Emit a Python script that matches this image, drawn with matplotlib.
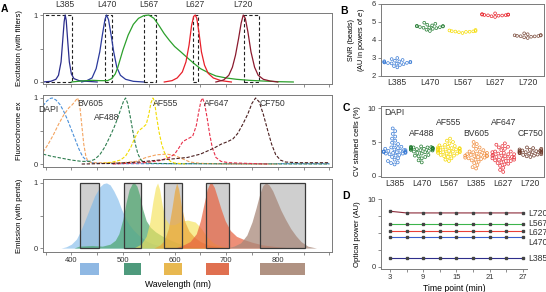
import numpy as np
import pandas as pd
import matplotlib
matplotlib.use("Agg")
import matplotlib.pyplot as plt
import matplotlib.transforms as mtrans
from matplotlib.patches import Rectangle
import seaborn as sns

plt.rcParams['font.family'] = ['Liberation Sans', 'DejaVu Sans']
plt.rcParams['font.size'] = 6

# ---------------- DATA ----------------
# Panel A top: LED excitation spectra (with filters)
led_names = ["L385", "L470", "L567", "L627", "L720"]
led_colors = ["#2b2d8c", "#2b3a9c", "#2ca02c", "#e8202a", "#8b1a2e"]
led385_wl = [345, 360, 370, 375, 380, 383, 386, 388, 390, 393, 396, 400, 405, 415, 430, 450]
led385 = [0.0, 0.01, 0.04, 0.1, 0.3, 0.6, 0.9, 1.0, 0.92, 0.6, 0.3, 0.12, 0.05, 0.02, 0.01, 0.0]
led470_wl = [420, 430, 440, 448, 455, 460, 465, 468, 472, 477, 482, 488, 495, 505, 520, 540]
led470 = [0.0, 0.02, 0.06, 0.2, 0.45, 0.7, 0.93, 1.0, 0.93, 0.7, 0.45, 0.22, 0.1, 0.04, 0.01, 0.0]
led567_wl = [400, 420, 440, 455, 470, 478, 485, 490, 495, 500, 510, 520, 530, 540, 550, 560, 570,
             580, 590, 600, 612, 625, 637, 650, 665, 680, 700, 720, 745, 770, 800, 830]
led567 = [0.0, 0.015, 0.025, 0.02, 0.02, 0.05, 0.12, 0.22, 0.35, 0.48, 0.7, 0.86, 0.95, 0.99, 1.0,
          0.95, 0.84, 0.72, 0.62, 0.53, 0.45, 0.36, 0.28, 0.2, 0.14, 0.09, 0.06, 0.04, 0.025, 0.015, 0.005, 0.0]
led627_wl = [580, 595, 605, 615, 622, 628, 633, 637, 640, 643, 647, 652, 658, 665, 675, 690, 710]
led627 = [0.0, 0.02, 0.06, 0.15, 0.3, 0.55, 0.85, 0.98, 1.0, 0.95, 0.75, 0.45, 0.25, 0.13, 0.06, 0.02, 0.0]
led720_wl = [680, 695, 705, 712, 718, 724, 729, 733, 737, 742, 748, 755, 762, 772, 785, 800]
led720 = [0.0, 0.03, 0.1, 0.22, 0.4, 0.65, 0.88, 1.0, 0.95, 0.75, 0.45, 0.22, 0.1, 0.04, 0.015, 0.0]
ex_filter_lo = [340, 466, 540, 635, 734]
ex_filter_hi = [402, 478, 563, 645, 763]

# Panel A middle: fluorochrome excitation spectra
fl_names = ["DAPI", "BV605", "AF488", "AF555", "AF647", "CF750"]
fl_colors = ["#4a90d9", "#f4a460", "#2e7d4f", "#f2dc00", "#e8304a", "#4a1e1e"]
exDAPI_wl = [345, 352, 358, 363, 370, 378, 385, 392, 400, 408, 415, 422, 430, 440, 455, 480, 550, 700, 900]
exDAPI = [0.88, 0.95, 0.99, 1.0, 0.97, 0.9, 0.8, 0.68, 0.52, 0.36, 0.22, 0.11, 0.05, 0.02, 0.01, 0.005, 0.005, 0.005, 0.005]
exBV605_wl = [345, 355, 365, 375, 385, 395, 402, 407, 412, 416, 420, 424, 428, 432, 440, 460, 500, 525,
              545, 565, 585, 600, 615, 630, 650, 700, 800]
exBV605 = [0.18, 0.3, 0.44, 0.6, 0.74, 0.85, 0.9, 0.95, 1.0, 0.9, 0.6, 0.3, 0.12, 0.04, 0.02, 0.02, 0.02,
           0.04, 0.1, 0.14, 0.15, 0.13, 0.08, 0.03, 0.01, 0.0, 0.0]
ex488_wl = [345, 360, 380, 400, 420, 435, 445, 455, 465, 475, 483, 490, 496, 501, 505, 509, 514, 519,
            524, 529, 535, 542, 555, 600, 900]
ex488 = [0.15, 0.12, 0.09, 0.06, 0.04, 0.04, 0.07, 0.14, 0.26, 0.42, 0.56, 0.7, 0.84, 0.95, 1.0, 0.92,
         0.72, 0.5, 0.3, 0.15, 0.06, 0.02, 0.01, 0.005, 0.0]
ex555_wl = [460, 480, 495, 505, 515, 522, 530, 538, 545, 550, 554, 558, 561, 565, 570, 575, 580, 586, 592, 600, 620]
ex555 = [0.01, 0.03, 0.06, 0.12, 0.25, 0.38, 0.5, 0.55, 0.6, 0.75, 0.92, 1.0, 0.95, 0.72, 0.48, 0.3,
         0.18, 0.09, 0.04, 0.015, 0.0]
ex647_wl = [480, 540, 570, 590, 600, 608, 616, 625, 635, 642, 647, 651, 654, 658, 663, 668, 673, 680,
            690, 705, 740, 780]
ex647 = [0.0, 0.02, 0.05, 0.1, 0.15, 0.24, 0.34, 0.38, 0.42, 0.58, 0.8, 0.95, 1.0, 0.92, 0.7, 0.45,
         0.25, 0.1, 0.04, 0.02, 0.01, 0.0]
ex750_wl = [420, 480, 530, 570, 600, 625, 650, 676, 690, 703, 713, 722, 732, 742, 750, 757, 764, 772,
            780, 788, 796, 805, 815, 840, 900]
ex750 = [0.0, 0.01, 0.03, 0.06, 0.08, 0.1, 0.15, 0.24, 0.3, 0.34, 0.38, 0.46, 0.6, 0.76, 0.92, 1.0,
         0.94, 0.75, 0.52, 0.3, 0.14, 0.06, 0.03, 0.02, 0.02]

# Panel A bottom: emission spectra and emission (penta) filters
em_colors = ["#78b6ea", "#4aa56c", "#f5e35a", "#eaa63a", "#e8603e", "#a8887a"]
emDAPI_wl = [380, 390, 400, 410, 417, 425, 435, 445, 455, 462, 468, 475, 482, 490, 497, 505, 512, 520,
             530, 540, 550, 560, 575, 590, 610]
emDAPI = [0.0, 0.02, 0.06, 0.14, 0.25, 0.4, 0.6, 0.8, 0.94, 0.99, 1.0, 0.97, 0.88, 0.75, 0.6, 0.46,
          0.36, 0.28, 0.2, 0.14, 0.09, 0.06, 0.03, 0.01, 0.0]
em488_wl = [405, 415, 440, 460, 475, 485, 492, 500, 506, 512, 518, 522, 527, 532, 538, 545, 553, 563,
            575, 590, 605, 625, 650, 680]
em488 = [0.0, 0.03, 0.04, 0.03, 0.06, 0.12, 0.22, 0.45, 0.7, 0.9, 0.99, 1.0, 0.95, 0.82, 0.6, 0.42,
         0.32, 0.25, 0.19, 0.13, 0.08, 0.04, 0.015, 0.0]
em555_wl = [520, 535, 545, 552, 558, 563, 567, 571, 576, 582, 590, 600, 612, 625, 640, 652, 662, 675, 690, 710]
em555 = [0.0, 0.06, 0.18, 0.4, 0.72, 0.93, 1.0, 0.9, 0.66, 0.45, 0.36, 0.36, 0.41, 0.43, 0.4, 0.3,
         0.18, 0.08, 0.03, 0.0]
em605_wl = [560, 572, 580, 588, 595, 600, 604, 608, 613, 620, 628, 638, 650, 665, 685, 710]
em605 = [0.0, 0.05, 0.12, 0.3, 0.62, 0.88, 1.0, 0.9, 0.65, 0.4, 0.26, 0.17, 0.1, 0.05, 0.02, 0.0]
em647_wl = [600, 615, 630, 642, 650, 657, 663, 668, 672, 677, 683, 690, 698, 708, 720, 735, 750, 770, 800, 830]
em647 = [0.0, 0.04, 0.1, 0.22, 0.42, 0.68, 0.9, 0.99, 1.0, 0.93, 0.78, 0.6, 0.42, 0.27, 0.18, 0.13,
         0.09, 0.05, 0.02, 0.0]
em750_wl = [700, 715, 728, 740, 750, 758, 765, 771, 777, 783, 790, 798, 806, 815, 825, 835, 845, 858, 875]
em750 = [0.0, 0.03, 0.08, 0.2, 0.4, 0.62, 0.83, 0.96, 1.0, 0.97, 0.88, 0.73, 0.58, 0.44, 0.3, 0.19,
         0.1, 0.03, 0.0]
em_filter_lo = [416, 501, 579, 660, 765]
em_filter_hi = [454, 534, 614, 705, 852]
swatch_colors = ["#8fb8e3", "#4e9a7c", "#e8b850", "#e07050", "#b09282"]

# Panel B: SNR beads
b_cats = ["L385", "L470", "L567", "L627", "L720"]
b_colors = ["#3a7bd5", "#1f7a2e", "#f5dc00", "#e82028", "#7a4a3a"]
b_L385 = [2.48, 2.55, 2.61, 2.66, 2.70, 2.73, 2.76, 2.79, 2.82, 2.85, 2.89, 2.94, 3.00,
          2.72, 2.77, 2.68, 2.81, 2.75]
b_L470 = [4.50, 4.57, 4.62, 4.66, 4.69, 4.72, 4.75, 4.78, 4.81, 4.85, 4.90, 4.96, 4.71, 4.76, 4.68, 4.79]
b_L567 = [4.39, 4.43, 4.46, 4.48, 4.50, 4.53, 4.56, 4.47, 4.49, 4.45]
b_L627 = [5.28, 5.32, 5.35, 5.37, 5.39, 5.41, 5.44, 5.48, 5.36, 5.40, 5.38, 5.42]
b_L720 = [4.11, 4.15, 4.18, 4.21, 4.23, 4.25, 4.28, 4.32, 4.37, 4.22, 4.26, 4.20]

# Panel C: CV of stained cells
c_cats = ["L385", "L470", "L567", "L385", "L627", "L720"]
c_dyes = ["DAPI", "AF488", "AF555", "BV605", "AF647", "CF750"]
c_colors = ["#3a7bd5", "#1f7a2e", "#f5d800", "#f08c3c", "#e8323c", "#6e3a2a"]
c_DAPI = [1.7, 1.9, 2.0, 2.2, 2.4, 2.6, 2.8, 3.0, 3.1, 3.2, 3.3, 3.3, 3.4, 3.4, 3.5, 3.5, 3.5, 3.6, 3.6,
          3.6, 3.7, 3.7, 3.8, 3.8, 3.9, 4.0, 4.1, 4.2, 4.3, 4.5, 4.7, 4.9, 5.2, 5.5, 5.8, 6.2, 6.6, 7.0]
c_AF488 = [2.0, 2.3, 2.6, 2.9, 3.1, 3.3, 3.5, 3.6, 3.7, 3.75, 3.8, 3.85, 3.9, 3.95, 4.0, 4.0, 4.05, 4.1,
           4.1, 4.15, 4.2, 4.2, 4.25, 4.3, 4.35, 3.9, 3.4, 3.0, 2.8, 4.05, 4.15]
c_AF555 = [2.2, 2.4, 2.6, 2.8, 3.0, 3.1, 3.2, 3.3, 3.4, 3.5, 3.6, 3.7, 3.8, 3.9, 4.0, 4.1, 4.2, 4.3,
           4.4, 4.5, 4.6, 4.8, 5.0, 5.2, 5.5, 3.6, 3.8, 3.9, 4.0, 3.7, 3.5, 4.1, 4.2, 3.3, 2.9]
c_BV605 = [1.1, 1.3, 1.6, 1.9, 2.1, 2.3, 2.5, 2.6, 2.7, 2.8, 2.9, 3.0, 3.0, 3.1, 3.2, 3.3, 3.4, 3.5,
           3.6, 3.8, 4.0, 4.2, 4.4, 4.7, 5.0, 2.9, 3.1, 2.7, 3.3, 2.4, 3.6]
c_AF647 = [0.6, 0.9, 1.2, 1.5, 1.7, 1.9, 2.0, 2.2, 2.3, 2.4, 2.5, 2.6, 2.7, 2.8, 2.9, 3.0, 3.1, 3.2,
           3.3, 3.4, 3.5, 3.6, 3.8, 4.0, 4.2, 4.4, 4.6, 4.8, 2.6, 2.8, 3.0, 2.2, 1.8, 3.6, 4.3, 2.4, 3.2]
c_CF750 = [2.8, 2.9, 3.0, 3.1, 3.15, 3.2, 3.3, 3.35, 3.4, 3.45, 3.5, 3.55, 3.6, 3.65, 3.7, 3.75, 3.8,
           3.85, 3.9, 4.0, 4.1, 4.2, 3.5, 3.6, 3.4, 3.7]

# Panel D: optical power stability
d_time = [3, 6, 9, 12, 15, 18, 21, 24, 27]
d_names = ["L720", "L567", "L627", "L470", "L385"]
d_colors = ["#8b2b3a", "#3cb44b", "#e8403a", "#3a5fcd", "#2e2e8b"]
d_L720 = [8.2, 7.95, 7.95, 7.95, 7.95, 7.95, 7.95, 7.95, 7.95]
d_L567 = [6.3, 6.3, 6.3, 6.3, 6.3, 6.3, 6.3, 6.3, 6.3]
d_L627 = [5.3, 5.3, 5.3, 5.3, 5.3, 5.3, 5.3, 5.3, 5.3]
d_L470 = [4.45, 4.45, 4.45, 4.45, 4.45, 4.45, 4.45, 4.45, 4.45]
d_L385 = [1.3, 1.3, 1.3, 1.3, 1.3, 1.3, 1.3, 1.3, 1.3]

# ---------------- LAYOUT ----------------
W, H = 546, 292
fig = plt.figure(figsize=(W / 100, H / 100), dpi=100)


def ax_px(l, t, r, b):
    return fig.add_axes([l / W, 1 - b / H, (r - l) / W, (b - t) / H])


SPINE = "#7a7a7a"


def style(ax, spines=("left", "bottom", "top", "right")):
    for s in ["left", "bottom", "top", "right"]:
        ax.spines[s].set_visible(s in spines)
        ax.spines[s].set_color(SPINE)
        ax.spines[s].set_linewidth(0.7)
    ax.tick_params(axis="both", which="both", length=2, width=0.6, color=SPINE,
                   labelsize=5.5, pad=1.5, labelcolor="#333333")


def hollow(ax):
    for coll in ax.collections:
        fc = coll.get_facecolor()
        coll.set_edgecolor(fc)
        coll.set_facecolor("none")
        coll.set_linewidth(0.5)


XLIM = (345, 905)
xt_major = [350, 400, 450, 500, 550, 600, 650, 700, 750, 800, 850, 900]

# ---- A top ----
axA1 = ax_px(43, 13, 332, 84)
style(axA1)
led_wls = [led385_wl, led470_wl, led567_wl, led627_wl, led720_wl]
led_vals = [led385, led470, led567, led627, led720]
for wl, v, c in zip(led_wls, led_vals, led_colors):
    axA1.plot(wl, v, color=c, lw=0.9)
for lo, hi in zip(ex_filter_lo, ex_filter_hi):
    axA1.add_patch(Rectangle((lo, 0), hi - lo, 1, fill=False, ls=(0, (3, 2)), lw=0.8, ec="#222222"))
axA1.set_xlim(*XLIM)
axA1.set_ylim(-0.03, 1.03)
axA1.set_xticks(xt_major)
axA1.set_xticklabels([])
axA1.set_yticks([0, 0.5, 1])
axA1.set_yticklabels(["0", "", "1"])
axA1.set_ylabel("Excitation (with filters)", fontsize=5.6)
axA1.yaxis.set_label_coords(-0.069, 0.5)
tr = mtrans.blended_transform_factory(axA1.transData, axA1.transAxes)
for name, wl, v in zip(led_names, led_wls, led_vals):
    axA1.text(wl[int(np.argmax(v))], 1.05, name, transform=tr, ha="center", va="bottom", fontsize=6.2,
              color="#333333")

# ---- A middle ----
axA2 = ax_px(43, 95, 332, 167)
style(axA2)
fl_wls = [exDAPI_wl, exBV605_wl, ex488_wl, ex555_wl, ex647_wl, ex750_wl]
fl_vals = [exDAPI, exBV605, ex488, ex555, ex647, ex750]
for wl, v, c in zip(fl_wls, fl_vals, fl_colors):
    axA2.plot(wl, v, color=c, lw=0.8, ls=(0, (3, 1.5)))
axA2.set_xlim(*XLIM)
axA2.set_ylim(-0.045, 1.045)
axA2.set_xticks(xt_major)
axA2.set_xticklabels([])
axA2.set_yticks([0, 0.5, 1])
axA2.set_yticklabels(["0", "", "1"])
axA2.set_ylabel("Fluorochrome ex", fontsize=5.6)
axA2.yaxis.set_label_coords(-0.069, 0.5)
fl_label_pos = [(356, 0.83), (437, 0.91), (468, 0.7), (582, 0.91), (682, 0.91), (790, 0.91)]
for name, (x, y) in zip(fl_names, fl_label_pos):
    axA2.text(x, y, name, ha="center", va="center", fontsize=6.2, color="#333333")

# ---- A bottom ----
axA3 = ax_px(43, 179, 332, 252)
style(axA3)
for lo, hi in zip(em_filter_lo, em_filter_hi):
    axA3.add_patch(Rectangle((lo, 0), hi - lo, 1, fc="#cfcfcf", ec="none", zorder=1))
em_wls = [emDAPI_wl, em488_wl, em555_wl, em605_wl, em647_wl, em750_wl]
em_vals = [emDAPI, em488, em555, em605, em647, em750]
em_alpha = [0.6, 0.7, 0.65, 0.7, 0.7, 0.75]
for wl, v, c, a in zip(em_wls, em_vals, em_colors, em_alpha):
    axA3.fill_between(wl, 0, v, color=c, alpha=a, lw=0, zorder=2)
for lo, hi in zip(em_filter_lo, em_filter_hi):
    axA3.add_patch(Rectangle((lo, 0), hi - lo, 1, fill=False, ec="#3a3a3a", lw=0.9, zorder=3))
axA3.set_xlim(*XLIM)
axA3.set_ylim(-0.06, 1.06)
axA3.set_xticks(xt_major)
axA3.set_xticklabels(["", "400", "", "500", "", "600", "", "700", "", "800", "", ""])
axA3.set_yticks([0, 0.5, 1])
axA3.set_yticklabels(["0", "", "1"])
axA3.set_ylabel("Emission (with penta)", fontsize=5.6)
axA3.yaxis.set_label_coords(-0.069, 0.5)
axA3.set_xlabel("Wavelength (nm)", fontsize=6.2)
axA3.xaxis.set_label_coords(0.467, -0.39)
trs = mtrans.blended_transform_factory(axA3.transData, axA3.transAxes)
for lo, hi, c in zip(em_filter_lo, em_filter_hi, swatch_colors):
    axA3.add_patch(Rectangle((lo, -0.315), hi - lo, 0.165, transform=trs, fc=c, ec="none", clip_on=False))

# ---- B ----
axB = ax_px(381, 4, 544, 76)
style(axB)
axB.set_ylim(2, 6)
b_vals = [b_L385, b_L470, b_L567, b_L627, b_L720]
dfB = pd.DataFrame({"pos": np.concatenate([[i] * len(v) for i, v in enumerate(b_vals)]),
                    "val": np.concatenate(b_vals)})
sns.swarmplot(data=dfB, x="pos", y="val", hue="pos", palette=b_colors, legend=False,
              size=2.0, linewidth=0.5, ax=axB, warn_thresh=1.0)
hollow(axB)
axB.set_xticks(range(len(b_cats)))
axB.set_xticklabels(b_cats, fontsize=6.2)
axB.set_xlabel("")
axB.set_yticks([2, 3, 4, 5, 6])
axB.set_ylabel("SNR (beads)\n(AU in powers of $\\mathit{e}$)", fontsize=5.2, linespacing=1.15)
axB.yaxis.set_label_coords(-0.085, 0.5)
axB.tick_params(axis="x", length=0)

# ---- C ----
axC = ax_px(381, 106, 544, 177)
style(axC)
axC.set_ylim(-0.15, 10.3)
c_vals = [c_DAPI, c_AF488, c_AF555, c_BV605, c_AF647, c_CF750]
dfC = pd.DataFrame({"pos": np.concatenate([[i] * len(v) for i, v in enumerate(c_vals)]),
                    "val": np.concatenate(c_vals)})
sns.swarmplot(data=dfC, x="pos", y="val", hue="pos", palette=c_colors, legend=False,
              size=2.1, linewidth=0.5, ax=axC, warn_thresh=1.0)
hollow(axC)
axC.set_xticks(range(len(c_cats)))
axC.set_xticklabels(c_cats, fontsize=6.2)
axC.set_xlabel("")
axC.set_yticks([0, 5, 10])
axC.set_ylabel("CV stained cells (%)", fontsize=5.6)
axC.yaxis.set_label_coords(-0.12, 0.5)
axC.tick_params(axis="x", length=0)
c_label_y = [9.3, 6.3, 7.9, 6.2, 7.9, 6.2]
for i, (name, y) in enumerate(zip(c_dyes, c_label_y)):
    axC.text(i, y, name, ha="center", va="center", fontsize=6.2, color="#333333")

# ---- D ----
axD = ax_px(381, 199, 527, 269)
style(axD, spines=("left", "bottom"))
d_vals = [d_L720, d_L567, d_L627, d_L470, d_L385]
for v, c in zip(d_vals, d_colors):
    axD.plot(d_time, v, color=c, lw=0.8, marker="s", ms=1.6, mfc="#444444", mec="#444444")
axD.set_xlim(1.4, 27.7)
axD.set_ylim(-0.3, 10)
axD.set_xticks([3, 9, 15, 21, 27])
axD.set_xticks([6, 12, 18, 24], minor=True)
axD.set_yticks([0, 10])
axD.set_yticks([2.5, 5, 7.5], minor=True)
axD.set_xlabel("Time point (min)", fontsize=6.2, labelpad=2)
axD.set_ylabel("Optical power (AU)", fontsize=5.6)
axD.yaxis.set_label_coords(-0.135, 0.5)
d_label_y = [7.9, 6.45, 5.0, 3.66, 1.3]
for name, y in zip(d_names, d_label_y):
    axD.text(27.9, y, name, ha="left", va="center", fontsize=6.2, color="#333333", clip_on=False)

# ---- panel letters ----
for letter, (x, y) in {"A": (4, 9), "B": (344, 11), "C": (346, 108), "D": (346, 196)}.items():
    fig.text(x / W, 1 - y / H, letter, fontsize=7.5, fontweight="bold", ha="center", va="center")

fig.savefig("out.png", dpi=100)
